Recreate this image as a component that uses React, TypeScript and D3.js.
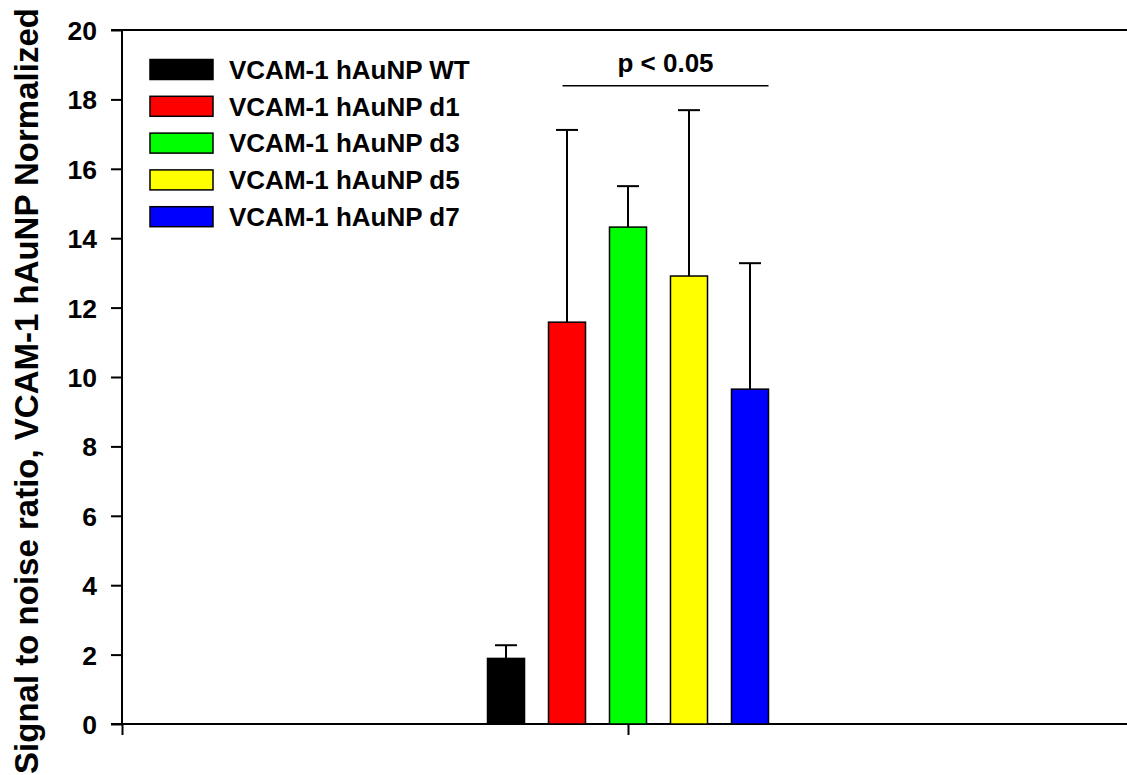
import React, { useEffect, useRef } from 'react';
import * as d3 from 'd3';

const seriesNames = [
  'VCAM-1 hAuNP WT',
  'VCAM-1 hAuNP d1',
  'VCAM-1 hAuNP d3',
  'VCAM-1 hAuNP d5',
  'VCAM-1 hAuNP d7',
];
const seriesColors = ['#000000', '#ff0000', '#00ff00', '#ffff00', '#0000ff'];
const means = [1.89, 11.58, 14.32, 12.91, 9.65];
const errors = [0.38, 5.54, 1.18, 4.78, 3.63];
const yTicks = [0, 2, 4, 6, 8, 10, 12, 14, 16, 18, 20];
const yLabel = 'Signal to noise ratio, VCAM-1 hAuNP Normalized';
const sigLabel = 'p < 0.05';

const App = () => {
  const svgRef = useRef<SVGSVGElement>(null);

  useEffect(() => {
    if (!svgRef.current) return;
    const svg = d3.select(svgRef.current);
    svg.selectAll('*').remove();

    const width = 1127;
    const height = 775;
    const font = '"Liberation Sans", Arial, sans-serif';
    svg.attr('width', width).attr('height', height);

    const left = 122;
    const y = d3.scaleLinear().domain([0, 20]).range([724, 30]);
    // one category group, centred at x = 1
    const xGroup = d3.scaleLinear().domain([0, 2]).range([left, 1134]);
    const groupCenter = xGroup(1);
    const groupWidth = 281;
    const xBar = d3.scaleBand()
      .domain(seriesNames)
      .range([groupCenter - groupWidth / 2, groupCenter + groupWidth / 2])
      .paddingInner(0.393)
      .paddingOuter(0);

    // frame top line
    svg.append('line')
      .attr('x1', left - 11).attr('x2', width)
      .attr('y1', y(20)).attr('y2', y(20))
      .attr('stroke', '#000').attr('stroke-width', 2);

    // y axis
    const yAxis = d3.axisLeft(y).tickValues(yTicks).tickSize(11).tickPadding(14)
      .tickFormat(d3.format('d'));
    const gy = svg.append('g').attr('transform', `translate(${left},0)`).call(yAxis);
    gy.select('.domain').attr('stroke', '#000').attr('stroke-width', 2)
      .attr('d', `M${-11},${y(20)}H0V${y(0)}`);
    gy.selectAll('.tick line').attr('stroke', '#000').attr('stroke-width', 2);
    gy.selectAll('.tick text')
      .attr('fill', '#000')
      .attr('font-family', font)
      .attr('font-weight', 'bold')
      .attr('font-size', 26.5)
      .attr('dy', '0.36em');

    // x axis
    const xAxis = d3.axisBottom(xGroup).tickValues([0, 1]).tickSize(11).tickFormat(() => '');
    const gx = svg.append('g').attr('transform', `translate(0,${y(0)})`).call(xAxis);
    gx.select('.domain').attr('stroke', '#000').attr('stroke-width', 2)
      .attr('d', `M${left - 11},0H${width}`);
    gx.selectAll('.tick line').attr('stroke', '#000').attr('stroke-width', 2);

    // bars
    svg.append('g')
      .selectAll('rect')
      .data(seriesNames)
      .enter()
      .append('rect')
      .attr('x', d => xBar(d)!)
      .attr('y', (d, i) => y(means[i]))
      .attr('width', xBar.bandwidth())
      .attr('height', (d, i) => y(0) - y(means[i]))
      .attr('fill', (d, i) => seriesColors[i])
      .attr('stroke', '#000')
      .attr('stroke-width', 1.5);

    // error bars (upper only)
    const capHalf = 11;
    const eb = svg.append('g').attr('stroke', '#000').attr('stroke-width', 2);
    seriesNames.forEach((d, i) => {
      const cx = xBar(d)! + xBar.bandwidth() / 2;
      eb.append('line')
        .attr('x1', cx).attr('x2', cx)
        .attr('y1', y(means[i])).attr('y2', y(means[i] + errors[i]));
      eb.append('line')
        .attr('x1', cx - capHalf).attr('x2', cx + capHalf)
        .attr('y1', y(means[i] + errors[i])).attr('y2', y(means[i] + errors[i]));
    });

    // significance line
    const sigY = 85.7;
    const sx1 = xBar(seriesNames[1])! + xBar.bandwidth() / 2 - 4.5;
    const sx2 = xBar(seriesNames[4])! + xBar.bandwidth();
    svg.append('line')
      .attr('x1', sx1).attr('x2', sx2)
      .attr('y1', sigY).attr('y2', sigY)
      .attr('stroke', '#000').attr('stroke-width', 1.5);
    svg.append('text')
      .attr('x', (sx1 + sx2) / 2)
      .attr('y', 72)
      .attr('text-anchor', 'middle')
      .attr('font-family', font)
      .attr('font-weight', 'bold')
      .attr('font-size', 26)
      .text(sigLabel);

    // legend
    const legend = svg.append('g');
    seriesNames.forEach((d, i) => {
      const cy = 69.5 + i * 36.8;
      legend.append('rect')
        .attr('x', 150).attr('y', cy - 10)
        .attr('width', 63).attr('height', 20)
        .attr('fill', seriesColors[i])
        .attr('stroke', '#000').attr('stroke-width', 1.5);
      legend.append('text')
        .attr('x', 229).attr('y', cy + 9.3)
        .attr('font-family', font)
        .attr('font-weight', 'bold')
        .attr('font-size', 26)
        .text(d);
    });

    // y label
    svg.append('text')
      .attr('transform', `translate(38,391) rotate(-90)`)
      .attr('text-anchor', 'middle')
      .attr('font-family', font)
      .attr('font-weight', 'bold')
      .attr('font-size', 33)
      .text(yLabel);
  }, []);

  return (
    <div style={{ position: 'absolute', left: 0, top: 0 }}>
      <svg ref={svgRef} style={{ display: 'block' }}></svg>
    </div>
  );
};

export default App;
